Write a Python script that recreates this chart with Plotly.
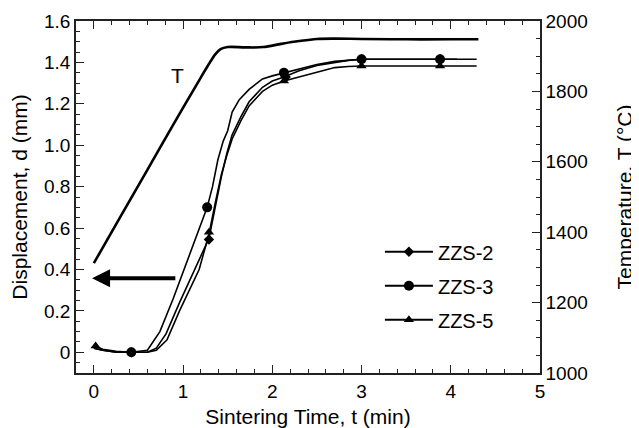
import plotly.graph_objects as go

# Temperature (right axis)
t_T = [0.0, 0.3, 0.6, 0.9, 1.2, 1.3, 1.36, 1.42, 1.5, 1.7, 1.9, 2.1, 2.3, 2.5, 2.7, 3.0, 3.5, 4.0, 4.31]
T_vals = [1312, 1445, 1577, 1710, 1840, 1882, 1905, 1920, 1926, 1925, 1926, 1935, 1943, 1949, 1950, 1949, 1948, 1948, 1948]

# Displacement curves
t_zzs3 = [0.0, 0.1, 0.25, 0.42, 0.6, 0.74, 0.89, 1.02, 1.15, 1.27, 1.33, 1.39, 1.45, 1.5, 1.55, 1.63, 1.74, 1.89, 2.0, 2.13, 2.3, 2.5, 2.7, 2.85, 3.0, 3.5, 3.88, 4.07]
d_zzs3 = [0.02, 0.01, 0.0, 0.0, 0.01, 0.10, 0.26, 0.41, 0.56, 0.70, 0.80, 0.93, 1.02, 1.07, 1.16, 1.22, 1.27, 1.32, 1.335, 1.35, 1.37, 1.39, 1.405, 1.41, 1.415, 1.415, 1.415, 1.415]

t_zzs2 = [0.0, 0.1, 0.25, 0.42, 0.6, 0.7, 0.81, 0.96, 1.13, 1.29, 1.36, 1.43, 1.49, 1.55, 1.65, 1.74, 1.89, 2.0, 2.13, 2.3, 2.5, 2.7, 2.85, 3.0, 3.5, 3.88, 4.29]
d_zzs2 = [0.02, 0.01, 0.0, 0.0, 0.0, 0.02, 0.09, 0.24, 0.40, 0.55, 0.70, 0.85, 0.96, 1.05, 1.14, 1.21, 1.28, 1.31, 1.33, 1.36, 1.385, 1.40, 1.41, 1.415, 1.415, 1.415, 1.415]

t_zzs5 = [0.01, 0.1, 0.25, 0.42, 0.6, 0.7, 0.82, 0.96, 1.18, 1.29, 1.36, 1.43, 1.49, 1.55, 1.65, 1.74, 1.89, 2.0, 2.13, 2.3, 2.5, 2.7, 2.85, 3.0, 3.5, 3.88, 4.29]
d_zzs5 = [0.03, 0.015, 0.005, 0.0, 0.0, 0.01, 0.06, 0.20, 0.40, 0.57, 0.72, 0.86, 0.95, 1.03, 1.12, 1.19, 1.26, 1.29, 1.31, 1.33, 1.355, 1.375, 1.38, 1.383, 1.383, 1.383, 1.383]

# Marker positions
mt_zzs3 = [0.42, 1.27, 2.13, 3.0, 3.88]
md_zzs3 = [0.0, 0.70, 1.35, 1.415, 1.415]
mt_zzs2 = [0.42, 1.29, 2.15, 3.0, 3.88]
md_zzs2 = [0.0, 0.545, 1.33, 1.415, 1.415]
mt_zzs5 = [0.02, 1.29, 2.13, 3.0, 3.88]
md_zzs5 = [0.03, 0.58, 1.31, 1.383, 1.383]

y_ticks = [0, 0.2, 0.4, 0.6, 0.8, 1.0, 1.2, 1.4, 1.6]
y_ticktext = ["0", "0.2", "0.4", "0.6", "0.8", "1.0", "1.2", "1.4", "1.6"]
x_ticks = [0, 1, 2, 3, 4, 5]
T_ticks = [1000, 1200, 1400, 1600, 1800, 2000]

FONT = "Liberation Sans, Arial, sans-serif"
AX = "#222"

fig = go.Figure()

fig.add_trace(go.Scatter(x=t_T, y=T_vals, mode="lines", yaxis="y2",
                         line=dict(color="black", width=2.6, shape="spline"), showlegend=False))

series = [
    ("ZZS-2", t_zzs2, d_zzs2, mt_zzs2, md_zzs2, "diamond", 8),
    ("ZZS-3", t_zzs3, d_zzs3, mt_zzs3, md_zzs3, "circle", 10),
    ("ZZS-5", t_zzs5, d_zzs5, mt_zzs5, md_zzs5, "triangle-up", 9),
]
for name, tx, dy, mx, my, sym, sz in series:
    fig.add_trace(go.Scatter(x=tx, y=dy, mode="lines", line=dict(color="black", width=1.6),
                             showlegend=False))
    fig.add_trace(go.Scatter(x=mx, y=my, mode="markers",
                             marker=dict(symbol=sym, size=sz, color="black"), showlegend=False))
    fig.add_trace(go.Scatter(x=[None], y=[None], mode="lines+markers", name=name, legendgroup=name,
                             line=dict(color="black", width=2),
                             marker=dict(symbol=sym, size=sz, color="black")))

# invisible trace that activates the top (mirror) axis
fig.add_trace(go.Scatter(x=[None], y=[None], xaxis="x2", showlegend=False, hoverinfo="skip"))

fig.add_annotation(x=-0.02, y=0.357, ax=0.93, ay=0.357, axref="x", ayref="y", xref="x", yref="y",
                   text="", showarrow=True, arrowhead=2, arrowwidth=4, arrowsize=0.9, arrowcolor="black")
fig.add_annotation(x=0.94, y=1.335, xref="x", yref="y", text="T", showarrow=False,
                   font=dict(size=21, color="black", family=FONT))

tick_common = dict(ticks="inside", ticklen=8, tickwidth=1.2, tickcolor=AX,
                   showgrid=False, zeroline=False, showline=True, linecolor=AX, linewidth=1.5,
                   automargin=False)

# page body has an 8px margin, so the figure is 8px smaller and margins are shifted
fig.update_layout(
    width=631, height=420,
    margin=dict(l=68, r=99, t=13, b=55),
    paper_bgcolor="white", plot_bgcolor="white",
    font=dict(family=FONT, size=19, color="black"),
    showlegend=True,
    legend=dict(x=0.655, y=0.40, xanchor="left", yanchor="top", bgcolor="rgba(0,0,0,0)",
                font=dict(size=20), tracegroupgap=5, itemwidth=48),
    xaxis=dict(range=[-0.2, 5], tickvals=x_ticks, **tick_common,
               minor=dict(dtick=0.2, ticks="inside", ticklen=4, tickcolor=AX, tickwidth=1),
               title=dict(text="Sintering Time, t (min)", font=dict(size=21), standoff=15)),
    xaxis2=dict(range=[-0.2, 5], overlaying="x", side="top", tickvals=x_ticks, showticklabels=False,
                **tick_common,
                minor=dict(dtick=0.2, ticks="inside", ticklen=4, tickcolor=AX, tickwidth=1)),
    yaxis=dict(range=[-0.1, 1.6], tickvals=y_ticks, ticktext=y_ticktext, **tick_common,
               minor=dict(dtick=0.05, ticks="inside", ticklen=4, tickcolor=AX, tickwidth=1),
               title=dict(text="Displacement, d (mm)", font=dict(size=21), standoff=16)),
    yaxis2=dict(range=[1000, 2000], overlaying="y", side="right", tickvals=T_ticks, **tick_common,
                minor=dict(dtick=50, ticks="inside", ticklen=4, tickcolor=AX, tickwidth=1),
                title=dict(text="Temperature, T (°C)", font=dict(size=21), standoff=30)),
)

fig.write_html("out.html")
